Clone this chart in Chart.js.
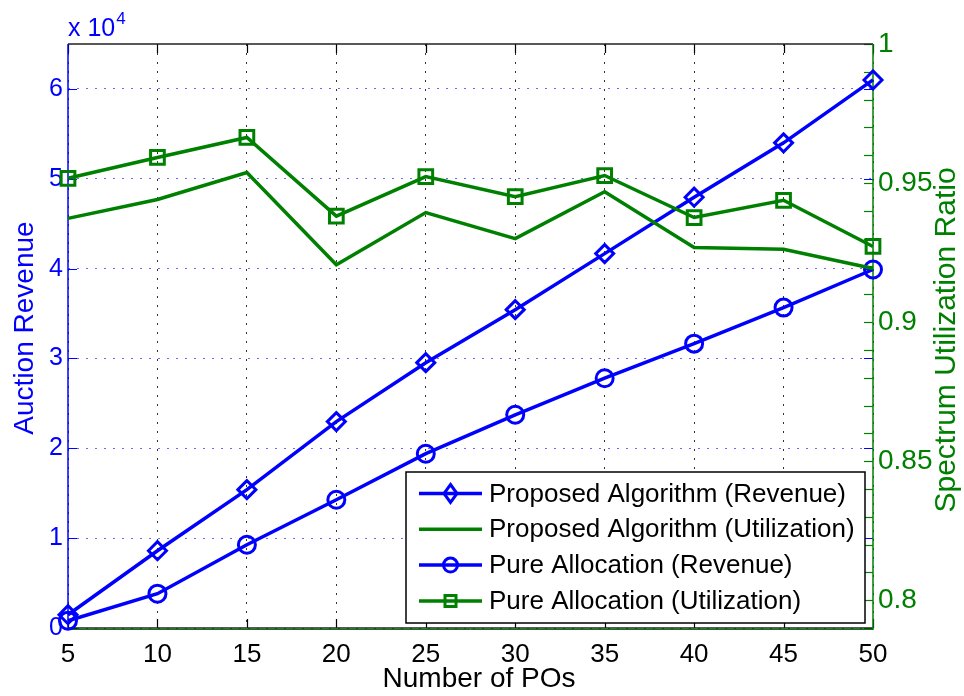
<!DOCTYPE html>
<html>
<head>
<meta charset="utf-8">
<script src="https://cdn.jsdelivr.net/npm/chart.js@4.4.1/dist/chart.umd.min.js"></script>
<style>
    html, body { margin: 0; padding: 0; background: #fff; }
    #wrap { width: 964px; height: 696px; position: relative; }
</style>
</head>
<body>
<div id="wrap"><canvas id="chart" width="964" height="696"></canvas></div>
<script>
// Datos
const numPOs = [5, 10, 15, 20, 25, 30, 35, 40, 45, 50];
const revenueProposed = [1480, 8600, 15400, 22970, 29530, 35430, 41670, 47950, 54000, 61000];
const revenuePure = [810, 3820, 9270, 14280, 19400, 23730, 27800, 31650, 35660, 39900];
const utilProposed = [0.9373, 0.9441, 0.9538, 0.9206, 0.9394, 0.9300, 0.9469, 0.9268, 0.9262, 0.9193];
const utilPure = [0.9517, 0.9592, 0.9664, 0.9381, 0.9523, 0.9451, 0.9527, 0.9376, 0.9438, 0.9272];

// Marcas de los ejes
const revenueTicks = [0, 10000, 20000, 30000, 40000, 50000, 60000];
const utilTicks = [0.79, 0.80, 0.81, 0.82, 0.83, 0.84, 0.85, 0.86, 0.87, 0.88, 0.89,
    0.90, 0.91, 0.92, 0.93, 0.94, 0.95, 0.96, 0.97, 0.98, 0.99, 1.00];
const utilLabels = [0.8, 0.85, 0.9, 0.95, 1];

const BLUE = '#0000ff';
const GREEN = '#008000';
const FONT = "'Liberation Sans', Arial, Helvetica, sans-serif";
const TICK_LEN = 9;

function toPoints(ys) {
    return numPOs.map((x, i) => ({ x: x, y: ys[i] }));
}

// Marco, marcas interiores y textos extra (estilo MATLAB)
const axesFrame = {
    id: 'axesFrame',
    beforeDatasetsDraw(chart) {
        const ctx = chart.ctx;
        const a = chart.chartArea;
        const sx = chart.scales.x, yl = chart.scales.yRev, yr = chart.scales.yUtil;
        ctx.save();
        ctx.lineCap = 'butt';

        // marcas del eje x (abajo y arriba)
        ctx.strokeStyle = '#000';
        ctx.lineWidth = 1.2;
        numPOs.forEach(v => {
            const px = Math.round(sx.getPixelForValue(v)) + 0.5;
            ctx.beginPath();
            ctx.moveTo(px, a.bottom); ctx.lineTo(px, a.bottom - TICK_LEN);
            ctx.moveTo(px, a.top); ctx.lineTo(px, a.top + TICK_LEN);
            ctx.stroke();
        });

        // marcas del eje izquierdo (y reflejadas a la derecha)
        ctx.strokeStyle = BLUE;
        revenueTicks.forEach(v => {
            const py = Math.round(yl.getPixelForValue(v)) + 0.5;
            ctx.beginPath();
            ctx.moveTo(a.left, py); ctx.lineTo(a.left + TICK_LEN, py);
            ctx.moveTo(a.right, py); ctx.lineTo(a.right - TICK_LEN, py);
            ctx.stroke();
        });

        // marcas del eje derecho
        ctx.strokeStyle = GREEN;
        utilTicks.forEach(v => {
            const py = Math.round(yr.getPixelForValue(v)) + 0.5;
            ctx.beginPath();
            ctx.moveTo(a.right, py); ctx.lineTo(a.right - TICK_LEN, py);
            ctx.stroke();
        });

        // bordes
        ctx.lineWidth = 1.5;
        ctx.strokeStyle = '#222';
        ctx.beginPath();
        ctx.moveTo(a.left, a.top); ctx.lineTo(a.right, a.top);
        ctx.moveTo(a.left, a.bottom); ctx.lineTo(a.right, a.bottom);
        ctx.stroke();
        ctx.strokeStyle = GREEN;
        ctx.lineWidth = 1;
        ctx.beginPath();
        ctx.moveTo(a.left, a.bottom + 1.5); ctx.lineTo(a.right, a.bottom + 1.5);
        ctx.stroke();
        ctx.lineWidth = 1.5;
        ctx.strokeStyle = BLUE;
        ctx.beginPath();
        ctx.moveTo(a.left, a.top); ctx.lineTo(a.left, a.bottom);
        ctx.stroke();
        ctx.strokeStyle = GREEN;
        ctx.beginPath();
        ctx.moveTo(a.right, a.top); ctx.lineTo(a.right, a.bottom + 2);
        ctx.stroke();
        ctx.restore();
    },
    afterDraw(chart) {
        const ctx = chart.ctx;
        const a = chart.chartArea;
        ctx.save();
        // multiplicador x 10^4
        ctx.fillStyle = BLUE;
        ctx.textBaseline = 'alphabetic';
        ctx.textAlign = 'left';
        ctx.font = '25px ' + FONT;
        ctx.fillText('x 10', a.left, 36);
        const w = ctx.measureText('x 10').width;
        ctx.font = '17px ' + FONT;
        ctx.fillText('4', a.left + w + 1, 24);

        // títulos de los ejes
        ctx.textAlign = 'center';
        ctx.font = '28px ' + FONT;
        ctx.save();
        ctx.translate(33, 328);
        ctx.rotate(-Math.PI / 2);
        ctx.fillText('Auction Revenue', 0, 0);
        ctx.restore();

        ctx.fillStyle = GREEN;
        ctx.font = '30px ' + FONT;
        ctx.save();
        ctx.translate(955, 340);
        ctx.rotate(-Math.PI / 2);
        ctx.fillText('Spectrum Utilization Ratio', 0, 0);
        ctx.restore();

        ctx.fillStyle = '#000';
        ctx.font = '28px ' + FONT;
        ctx.fillText('Number of POs', 479, 687);
        ctx.restore();
    }
};

// Leyenda dentro del área del gráfico
function drawMarker(ctx, style, x, y) {
    ctx.beginPath();
    if (style === 'rectRot') {
        ctx.moveTo(x, y - 9); ctx.lineTo(x + 6.5, y);
        ctx.lineTo(x, y + 9); ctx.lineTo(x - 6.5, y);
        ctx.closePath();
    } else if (style === 'circle') {
        ctx.arc(x, y, 7, 0, Math.PI * 2);
    } else if (style === 'rect') {
        ctx.rect(x - 5.5, y - 5.5, 11, 11);
    } else {
        return;
    }
    ctx.stroke();
}

const legendBox = {
    id: 'legendBox',
    afterDraw(chart) {
        const ctx = chart.ctx;
        const a = chart.chartArea;
        const w = 459, h = 151, rowH = 35.8;
        const x0 = a.right - 8 - w, y0 = a.bottom - 5 - h;
        ctx.save();
        ctx.fillStyle = '#fff';
        ctx.fillRect(x0, y0, w, h);
        ctx.strokeStyle = '#000';
        ctx.lineWidth = 1.5;
        ctx.strokeRect(x0, y0, w, h);

        chart.data.datasets.forEach((ds, i) => {
            const cy = y0 + 21.5 + i * rowH;
            ctx.strokeStyle = ds.borderColor;
            ctx.lineWidth = 3.5;
            ctx.beginPath();
            ctx.moveTo(x0 + 13, cy); ctx.lineTo(x0 + 76, cy);
            ctx.stroke();
            ctx.lineWidth = 3;
            if (ds.pointRadius > 0) drawMarker(ctx, ds.pointStyle, x0 + 44.5, cy);
            ctx.fillStyle = '#000';
            ctx.font = '26px ' + FONT;
            ctx.textAlign = 'left';
            ctx.textBaseline = 'middle';
            ctx.fillText(ds.label, x0 + 83, cy + 1);
        });
        ctx.restore();
    }
};

const ctx = document.getElementById('chart').getContext('2d');
new Chart(ctx, {
    type: 'line',
    data: {
        datasets: [
            {
                label: 'Proposed Algorithm (Revenue)',
                data: toPoints(revenueProposed),
                yAxisID: 'yRev',
                borderColor: BLUE,
                borderWidth: 3.5,
                pointStyle: 'rectRot',
                pointRadius: 9,
                pointBorderWidth: 3,
                pointBorderColor: BLUE,
                pointBackgroundColor: 'rgba(0,0,0,0)',
                order: 2,
                clip: false
            },
            {
                label: 'Proposed Algorithm (Utilization)',
                data: toPoints(utilProposed),
                yAxisID: 'yUtil',
                borderColor: GREEN,
                borderWidth: 3.5,
                pointRadius: 0,
                order: 1,
                clip: false
            },
            {
                label: 'Pure Allocation (Revenue)',
                data: toPoints(revenuePure),
                yAxisID: 'yRev',
                borderColor: BLUE,
                borderWidth: 3.5,
                pointStyle: 'circle',
                pointRadius: 8.5,
                pointBorderWidth: 3,
                pointBorderColor: BLUE,
                pointBackgroundColor: 'rgba(0,0,0,0)',
                order: 2,
                clip: false
            },
            {
                label: 'Pure Allocation (Utilization)',
                data: toPoints(utilPure),
                yAxisID: 'yUtil',
                borderColor: GREEN,
                borderWidth: 3.5,
                pointStyle: 'rect',
                pointRadius: 9.7,
                pointBorderWidth: 3,
                pointBorderColor: GREEN,
                pointBackgroundColor: 'rgba(0,0,0,0)',
                order: 1,
                clip: false
            }
        ]
    },
    options: {
        responsive: false,
        animation: false,
        events: [],
        layout: { padding: { top: 44, left: 0, right: 0, bottom: 0 } },
        elements: { line: { tension: 0 } },
        plugins: {
            legend: { display: false },
            tooltip: { enabled: false }
        },
        scales: {
            x: {
                type: 'linear',
                position: 'bottom',
                min: 5,
                max: 50,
                afterFit: s => { s.height = 68; },
                afterBuildTicks: s => { s.ticks = numPOs.map(v => ({ value: v })); },
                grid: { color: 'rgba(0,0,0,0.8)', lineWidth: 1, drawTicks: false },
                border: { display: false, dash: [2, 7] },
                ticks: {
                    color: '#000',
                    font: { family: FONT, size: 26 },
                    padding: 11,
                    maxRotation: 0,
                    autoSkip: false
                }
            },
            yRev: {
                type: 'linear',
                position: 'left',
                min: 0,
                max: 65000,
                afterFit: s => { s.width = 68; },
                afterBuildTicks: s => { s.ticks = revenueTicks.map(v => ({ value: v })); },
                grid: { color: 'rgba(80,80,255,0.85)', lineWidth: 1, drawTicks: false },
                border: { display: false, dash: [2, 7] },
                ticks: {
                    color: BLUE,
                    font: { family: FONT, size: 25 },
                    padding: 5,
                    callback: v => v / 10000
                }
            },
            yUtil: {
                type: 'linear',
                position: 'right',
                min: 0.79,
                max: 1,
                afterFit: s => { s.width = 91; },
                afterBuildTicks: s => { s.ticks = utilTicks.map(v => ({ value: v })); },
                grid: { drawOnChartArea: false, drawTicks: false },
                border: { display: false },
                ticks: {
                    color: GREEN,
                    font: { family: FONT, size: 28 },
                    padding: 5,
                    autoSkip: false,
                    callback: v => {
                        const hit = utilLabels.find(l => Math.abs(l - v) < 1e-6);
                        return hit === undefined ? '' : String(hit);
                    }
                }
            }
        }
    },
    plugins: [axesFrame, legendBox]
});
</script>
</body>
</html>
